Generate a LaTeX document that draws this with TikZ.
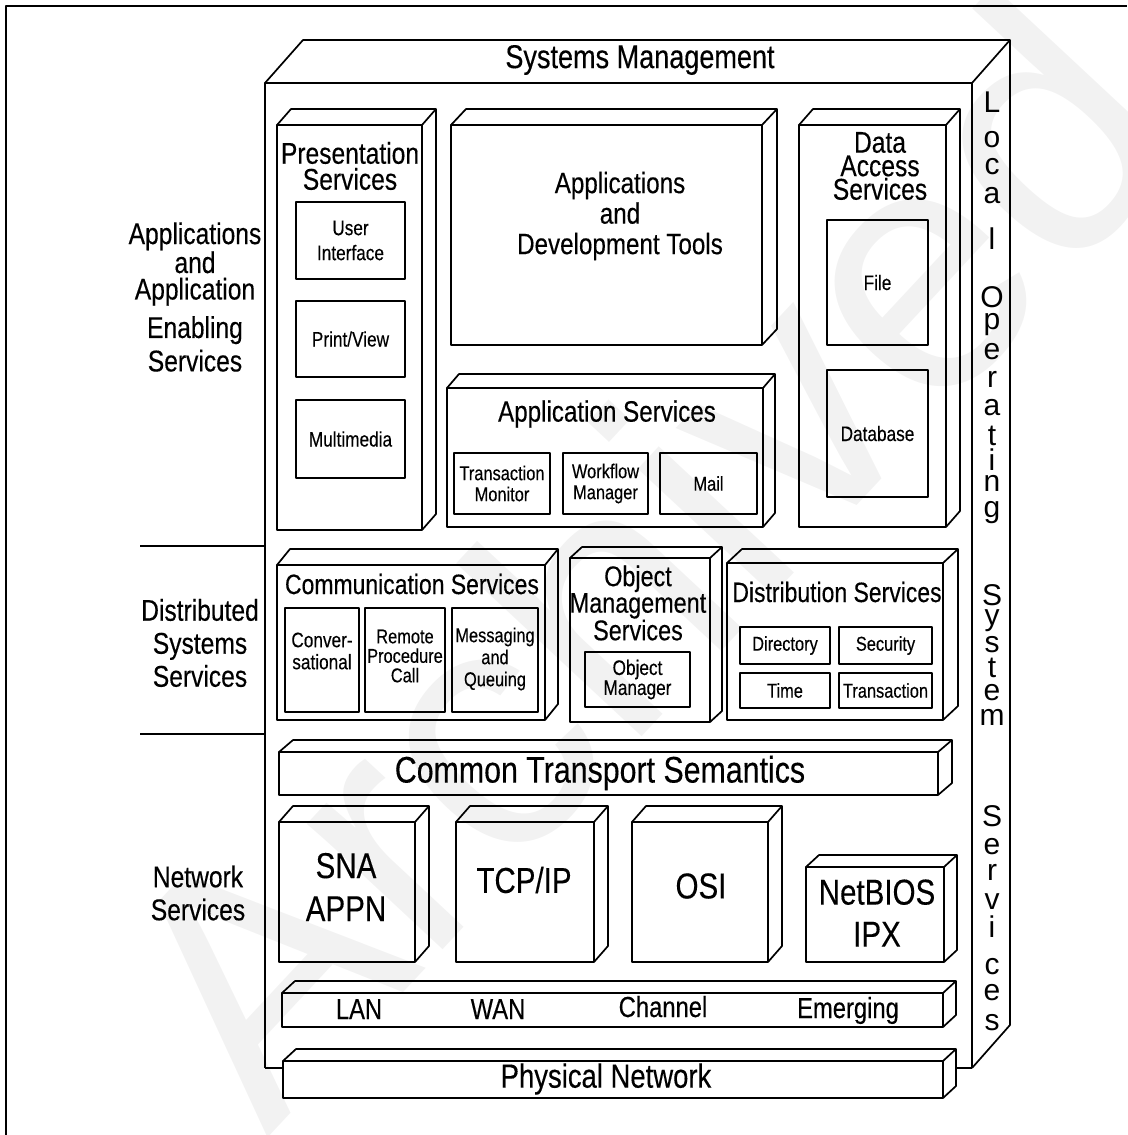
\documentclass[tikz,border=0pt]{standalone}
\usepackage{fontspec}
\setmainfont{Liberation Sans}[FakeStretch=0.82, FakeBold=0.3]
\newfontfamily\widefont{Liberation Sans}
\usetikzlibrary{calc}
\newcommand\fs[2]{\fontsize{#1}{#2}\selectfont}
% 3-D box: name, x1, y1, x2, y2 (front face), depth dx, dy
\newcommand\cube[7]{%
  \node[face, anchor=north west, minimum width={(#4)-(#2)}, minimum height={(#5)-(#3)}] (#1) at (#2,#3) {};
  \draw[edge] (#1.north west) -- ++(#6,-#7) -- ($(#1.north east)+(#6,-#7)$)
     -- ($(#1.south east)+(#6,-#7)$) -- (#1.south east);
  \draw[edge] (#1.north east) -- ++(#6,-#7);
}
% flat inner box: name, x1, y1, x2, y2
\newcommand\ibox[5]{%
  \node[inbox, anchor=north west, minimum width={(#4)-(#2)}, minimum height={(#5)-(#3)}] (#1) at (#2,#3) {};
}
\begin{document}
\begin{tikzpicture}[x=1pt, y=-1pt, line join=round,
  face/.style={draw, line width=1.7, fill=none, inner sep=0, outer sep=0},
  inbox/.style={draw, line width=1.5, inner sep=0, outer sep=0},
  edge/.style={line width=1.7},
  lbl/.style 2 args={align=center, inner sep=0, font=\fs{#1}{#2}},
  vlet/.style={anchor=base, inner sep=0, font=\widefont\fs{30}{30}},
  wm/.style={rotate=47, inner sep=0, text=black!5, font=\widefont\fs{350}{350}}]
\useasboundingbox (0,0) rectangle (1127,1135);

% watermark
\node[wm] (wmark) at (640,555) {Archived};

% page frame
\draw[line width=2.5] (6,1135) -- (6,6) -- (1127,6);

% systems management block
\coordinate (m-nw) at (265,83);
\coordinate (m-ne) at (972,83);
\coordinate (m-sw) at (265,1068);
\coordinate (m-se) at (972,1068);
\draw[edge] (m-sw) -- (m-nw) -- (m-ne) -- (m-se);
\draw[edge] (m-nw) -- ++(38,-43) -- ($(m-ne)+(38,-43)$) -- ($(m-se)+(38,-43)$) -- (m-se);
\draw[edge] (m-ne) -- ++(38,-43);
\node[lbl={33}{33}] (smt) at (640,60) {Systems Management};

% local operating system services column
\foreach \c/\b [count=\i] in {L/112, o/147, c/174, a/203, l/249,
   O/307, p/329, e/359, r/387, a/415, t/445, i/470, n/491, g/517,
   S/605, y/625, s/652, t/677, e/700, m/725,
   S/826, e/854, r/880, v/909, i/937, c/974, e/1000, s/1030}
  \node[vlet] (los\i) at (992,\b) {\c};

% layer labels
\node[lbl={30}{26.5}] (leftA) at (195,297)
  {Applications\\and\\Application\\[9.5pt]Enabling\\[4.5pt]Services};
\node[lbl={30}{33}] (leftB) at (200,643) {Distributed\\Systems\\Services};
\node[lbl={30}{33}] (leftC) at (198,893) {Network\\Services};
\coordinate (sep1) at (140,546);
\coordinate (sep2) at (140,734);
\draw[edge] (sep1) -- (sep1 -| m-nw);
\draw[edge] (sep2) -- (sep2 -| m-nw);

% presentation services
\cube{pres}{277}{125}{422}{530}{14}{16}
\node[lbl={30}{26}] (pst) at (350,166) {Presentation\\Services};
\ibox{ui}{296}{202}{405}{279}
\ibox{pv}{296}{301}{405}{377}
\ibox{mm}{296}{400}{405}{478}
\node[lbl={21}{25}] (uit) at (ui) {User\\Interface};
\node[lbl={21}{21}] (pvt) at (pv) {Print/View};
\node[lbl={21}{21}] (mmt) at (mm) {Multimedia};

% applications and development tools
\cube{adt}{451}{125}{762}{345}{15}{16}
\node[lbl={29.5}{30.5}] (adtt) at (620,216) {Applications\\and\\Development Tools};

% application services
\cube{aps}{447}{388}{763}{527}{12}{14}
\node[lbl={29.5}{29.5}] (ast) at (607,414) {Application Services};
\ibox{tm}{454}{453}{550}{514}
\ibox{wf}{563}{453}{648}{514}
\ibox{ml}{660}{453}{757}{514}
\node[lbl={20}{21}] (tmt) at (tm) {Transaction\\Monitor};
\node[lbl={20}{21}] (wmt) at (wf) {Workflow\\Manager};
\node[lbl={20}{20}] (mlt) at (ml) {Mail};

% data access services
\cube{das}{799}{125}{946}{527}{14}{16}
\node[lbl={30}{23.5}] (dat) at (880,166) {Data\\Access\\Services};
\ibox{fl}{827}{220}{928}{345}
\ibox{dbx}{827}{370}{928}{497}
\node[lbl={21}{21}] (flt) at (fl) {File};
\node[lbl={21}{21}] (dbt) at (dbx) {Database};

% communication services
\cube{cms}{277}{565}{545}{720}{13}{16}
\node[lbl={28}{28}] (cst) at (412,584) {Communication Services};
\ibox{cv}{285}{608}{359}{712}
\ibox{rp}{365}{608}{445}{712}
\ibox{mq}{452}{608}{538}{712}
\node[lbl={21}{22}] (cvt) at (322,651) {Conver-\\sational};
\node[lbl={20}{19.5}] (rpt) at (405,656) {Remote\\Procedure\\Call};
\node[lbl={20}{22}] (mqt) at (495,659) {Messaging\\and\\Queuing};

% object management services
\cube{oms}{570}{558}{710}{722}{12}{11}
\node[lbl={28.5}{24}] (omt) at (638,603) {Object\\Management\\Services};
\ibox{ob}{585}{652}{690}{707}
\node[lbl={21}{20}] (obt) at (ob) {Object\\Manager};

% distribution services
\cube{dss}{727}{563}{943}{720}{15}{14}
\node[lbl={28}{28}] (dst) at (837,592) {Distribution Services};
\ibox{dr}{740}{627}{830}{664}
\ibox{sc}{839}{627}{932}{664}
\ibox{ti}{740}{673}{830}{708}
\ibox{tr}{839}{673}{932}{708}
\node[lbl={20}{20}] (drt) at (dr) {Directory};
\node[lbl={20}{20}] (sct) at (sc) {Security};
\node[lbl={20}{20}] (tit) at (ti) {Time};
\node[lbl={20}{20}] (trt) at (tr) {Transaction};

% common transport semantics
\cube{cts}{279}{752}{938}{795}{14}{12}
\node[lbl={37}{37}] (ctt) at (600,773) {Common Transport Semantics};

% network protocols
\cube{sna}{279}{822}{415}{962}{14}{16}
\cube{tcp}{456}{822}{594}{962}{14}{16}
\cube{osi}{632}{822}{768}{962}{14}{16}
\cube{nbs}{806}{867}{944}{962}{13}{12}
\node[lbl={36}{43}] (snt) at (346,887) {SNA\\APPN};
\node[lbl={36}{36}] (tct) at (524,880) {TCP/IP};
\node[lbl={36}{36}] (ost) at (701,886) {OSI};
\node[lbl={36}{42}] (nbt) at (877,913) {NetBIOS\\IPX};

% subnetworking
\cube{sub}{282}{993}{943}{1027}{13}{12}
\node[lbl={29}{29}, anchor=base] (lan) at (359,1019) {LAN};
\node[lbl={29}{29}, anchor=base] (wan) at (498,1019) {WAN};
\node[lbl={29}{29}, anchor=base] (chan) at (663,1017) {Channel};
\node[lbl={29}{29}, anchor=base] (emer) at (848,1018) {Emerging};

% physical network
\cube{phys}{283}{1061}{943}{1098}{13}{12}
\node[lbl={33.5}{33.5}] (pnt) at (606,1079) {Physical Network};
\draw[edge] (m-sw) -- (m-sw -| phys.west);
\draw[edge] (m-se) -- ($(m-se -| phys.east)+(13,0)$);
\end{tikzpicture}
\end{document}
